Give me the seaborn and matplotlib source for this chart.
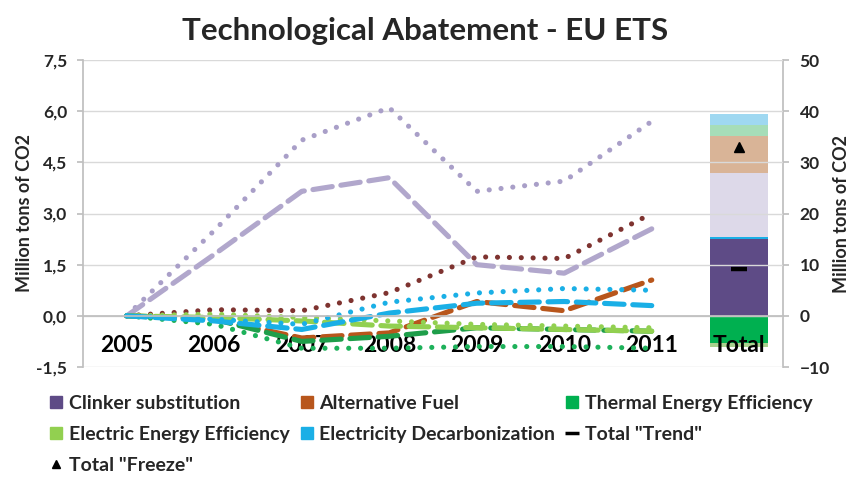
import matplotlib
matplotlib.use("Agg")
import matplotlib.pyplot as plt
from matplotlib.lines import Line2D
from matplotlib.ticker import FixedLocator, FuncFormatter
import seaborn as sns
import pandas as pd
import numpy as np

# ---------------- data ----------------
years = ["2005", "2006", "2007", "2008", "2009", "2010", "2011"]
categories = years + ["Total"]

clinker_freeze = [0.0, 2.5, 5.15, 6.1, 3.65, 3.95, 5.7]
clinker_trend = [0.0, 1.8, 3.65, 4.05, 1.5, 1.25, 2.55]
altfuel_freeze = [0.0, 0.18, 0.15, 0.68, 1.73, 1.68, 3.0]
altfuel_trend = [0.0, -0.1, -0.65, -0.5, 0.42, 0.15, 1.05]
thermal_freeze = [0.0, -0.25, -0.95, -0.95, -0.9, -0.9, -0.95]
thermal_trend = [0.0, -0.1, -0.75, -0.6, -0.35, -0.4, -0.45]
electric_freeze = [0.0, 0.05, -0.05, -0.15, -0.25, -0.3, -0.35]
electric_trend = [0.0, -0.05, -0.15, -0.3, -0.35, -0.4, -0.45]
decarb_freeze = [0.0, -0.1, -0.25, 0.4, 0.67, 0.8, 0.75]
decarb_trend = [0.0, -0.15, -0.4, 0.08, 0.37, 0.42, 0.3]

# Total bar segments (right axis, million tons)
pos_segments = [15.0, 0.5, 12.5, 7.2, 2.1, 2.1]
pos_colors = ["#5E4B86", "#1AAFE6", "#DDD9E9", "#D9B497", "#A6DDB8", "#9FD8F1"]
neg_segments = [-5.3, -0.7]
neg_colors = ["#00B050", "#A9D18E"]
total_trend = 9.2
total_freeze = 32.9

left_ticks = [-1.5, 0.0, 1.5, 3.0, 4.5, 6.0, 7.5]
right_ticks = [-10, 0, 10, 20, 30, 40, 50]

legend_labels = ["Clinker substitution", "Alternative Fuel", "Thermal Energy Efficiency",
                 "Electric Energy Efficiency", "Electricity Decarbonization",
                 'Total "Trend"', 'Total "Freeze"']

# ---------------- style ----------------
sns.set_theme(style="white")
plt.rcParams['font.family'] = ['Lato', 'DejaVu Sans']
plt.rcParams['font.weight'] = 'bold'

fig = plt.figure(figsize=(8.51, 4.78), dpi=100)
ax = fig.add_axes([83/851, 1-367/478, 700/851, 307/478])
ax2 = ax.twinx()

xpos = np.arange(len(years))
dot = (0, (0.01, 2.3))
dash = (0, (3.8, 1.7))

series = [
    (clinker_freeze, "#A99FC8", dot),
    (clinker_trend, "#B1A7CC", dash),
    (altfuel_freeze, "#7E3330", dot),
    (altfuel_trend, "#B8561C", dash),
    (thermal_freeze, "#1DB15A", dot),
    (thermal_trend, "#1E9E4A", dash),
    (electric_freeze, "#92D050", dot),
    (electric_trend, "#92D050", dash),
    (decarb_freeze, "#1AAFE6", dot),
    (decarb_trend, "#1AAFE6", dash),
]
for vals, col, ls in series:
    df = pd.DataFrame({"x": xpos, "y": vals})
    sns.lineplot(data=df, x="x", y="y", ax=ax, color=col, linestyle=ls,
                 linewidth=3.7, dash_capstyle="round", solid_capstyle="round",
                 legend=False, sort=False)

# stacked total bar on right axis
tpos = len(years)
bottom = 0.0
for v, c in zip(pos_segments, pos_colors):
    ax2.bar([tpos], [v], bottom=bottom, width=0.66, color=c, linewidth=0, zorder=2)
    bottom += v
bottom = 0.0
for v, c in zip(neg_segments, neg_colors):
    ax2.bar([tpos], [v], bottom=bottom, width=0.66, color=c, linewidth=0, zorder=2)
    bottom += v
ax2.plot([tpos], [total_trend], marker="_", markersize=11, markeredgewidth=3.2,
         color="black", linestyle="none", zorder=3)
ax2.plot([tpos], [total_freeze], marker="^", markersize=7, color="black",
         linestyle="none", zorder=3)

# axes limits / ticks
ax.set_xlim(-0.5, len(categories) - 0.5)
ax.set_ylim(-1.5, 7.5)
ax2.set_ylim(-10, 50)
ax.yaxis.set_major_locator(FixedLocator(left_ticks))
ax.yaxis.set_major_formatter(FuncFormatter(lambda v, p: f"{v:.1f}".replace(".", ",")))
ax2.yaxis.set_major_locator(FixedLocator(right_ticks))
ax.grid(axis="y", color="#D9D9D9", linewidth=1.0)
ax.set_axisbelow(True)

ax.set_xticks(np.arange(len(categories)))
ax.set_xticklabels(categories)
ax.set_xticks(np.arange(len(categories) + 1) - 0.5, minor=True)
ax.tick_params(axis="x", which="major", length=0, pad=14, labelsize=16.5, labelcolor="black")
ax.tick_params(axis="x", which="minor", length=8, color="#BFBFBF", width=1, direction="out")
ax.spines["bottom"].set_position(("data", 0))
ax.spines["bottom"].set_color("#BFBFBF")

for a in (ax, ax2):
    a.spines["top"].set_visible(False)
    a.spines["left"].set_color("#BFBFBF")
    a.spines["right"].set_color("#BFBFBF")
ax2.spines["bottom"].set_visible(False)
ax.spines["right"].set_visible(False)
ax2.spines["left"].set_visible(False)

ax.tick_params(axis="y", length=4, color="#BFBFBF", direction="out", labelsize=12.5, pad=7.5)
ax2.tick_params(axis="y", length=4, color="#BFBFBF", direction="out", labelsize=12.5, pad=8)
for lab in ax.get_xticklabels() + ax.get_yticklabels() + ax2.get_yticklabels():
    lab.set_fontweight("bold")

ax.set_xlabel("")
ax.set_ylabel("Million tons of CO2", fontsize=13, fontweight="bold", va="center")
ax2.set_ylabel("Million tons of CO2", fontsize=13, fontweight="bold", rotation=90, va="center")
ax.yaxis.set_label_coords(-0.083, 0.5)
ax2.yaxis.set_label_coords(1.084, 0.5)

# draw lines above the bar axis
ax.set_zorder(ax2.get_zorder() + 1)
ax.patch.set_visible(False)

fig.suptitle("Technological Abatement - EU ETS", x=0.5, y=0.965, fontsize=22.5,
             fontweight="bold")

# legend
sq = dict(marker="s", linestyle="none", markersize=8)
h_clinker = Line2D([], [], color="#5E4B86", **sq)
h_alt = Line2D([], [], color="#B8561C", **sq)
h_therm = Line2D([], [], color="#00B050", **sq)
h_elec = Line2D([], [], color="#92D050", **sq)
h_dec = Line2D([], [], color="#1AAFE6", **sq)
h_trend = Line2D([], [], color="black", marker="_", markersize=10, markeredgewidth=2.5, linestyle="none")
h_freeze = Line2D([], [], color="black", marker="^", markersize=6, linestyle="none")
handles = [h_clinker, h_elec, h_freeze, h_alt, h_dec, h_therm, h_trend]
labels = [legend_labels[0], legend_labels[3], legend_labels[6], legend_labels[1],
          legend_labels[4], legend_labels[2], legend_labels[5]]
leg = fig.legend(handles, labels, loc="upper left", bbox_to_anchor=(0.05, 0.19),
                 ncol=3, frameon=False, prop={"weight": "bold", "size": 14},
                 handlelength=0.6, handletextpad=0.35, columnspacing=0.58,
                 labelspacing=0.72, borderaxespad=0)

fig.savefig("out.png", dpi=100)
